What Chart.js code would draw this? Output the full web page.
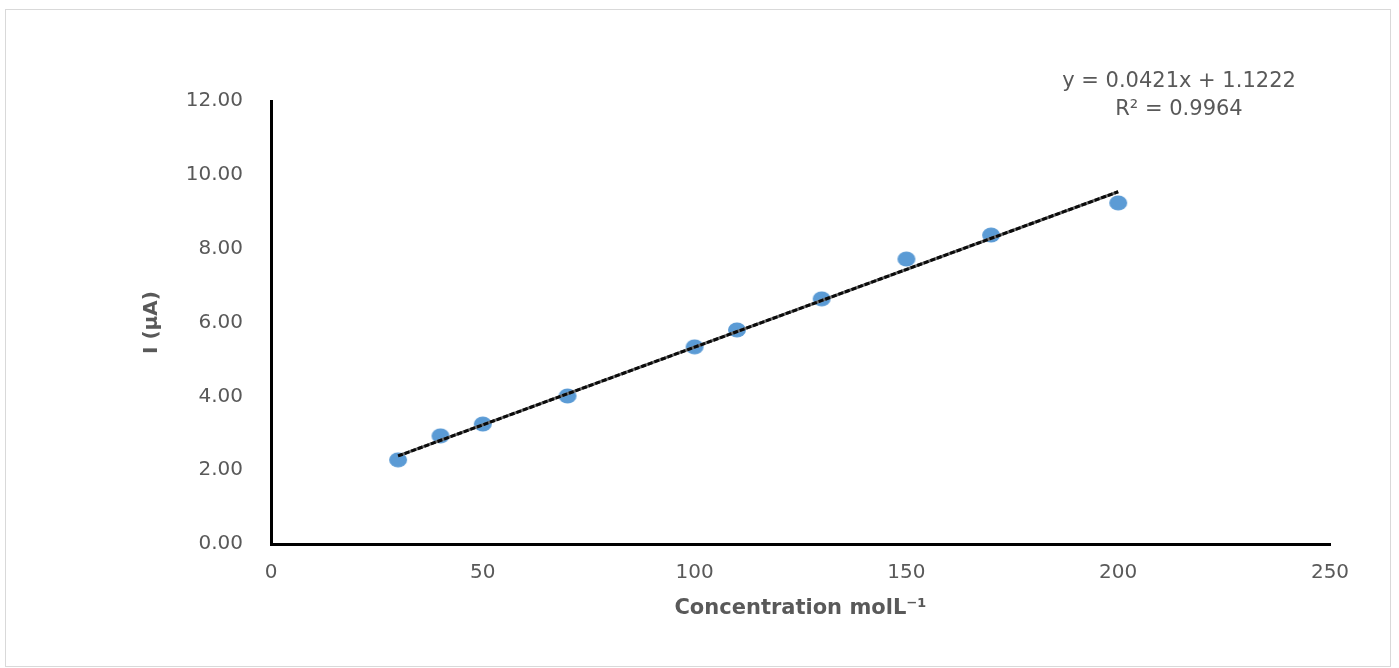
<!DOCTYPE html>
<html><head><meta charset="utf-8">
<script src="https://cdn.jsdelivr.net/npm/chart.js@4/dist/chart.umd.min.js"></script>
<style>
html,body{margin:0;padding:0;background:#fff;}
#wrap{position:absolute;left:0;top:0;width:1399px;height:668px;}
#frame{position:absolute;left:5px;top:9px;width:1384px;height:656px;border:1px solid #d9d9d9;pointer-events:none;}
</style></head><body>
<div id="wrap"><canvas id="c" width="1399" height="668"></canvas></div>
<div id="frame"></div>
<script>
const concentration = [30, 40, 50, 70, 100, 110, 130, 150, 170, 200];
const current = [2.28, 2.93, 3.25, 4.01, 5.34, 5.80, 6.64, 7.72, 8.37, 9.24];
const trendX = [30, 200];
const trendY = [2.385, 9.542];
const xTicks = [0, 50, 100, 150, 200, 250];
const yTicks = [0, 2, 4, 6, 8, 10, 12];
const equationText = 'y = 0.0421x + 1.1222';
const r2Text = 'R\u00B2 = 0.9964';
const xTitle = 'Concentration molL\u207B\u00B9';
const yTitle = 'I (\u00B5A)';

const FONT = '"DejaVu Sans", sans-serif';
const GRAY = '#595959';

// elliptical marker
const marker = document.createElement('canvas');
marker.width = 20; marker.height = 16;
(function(){
  const m = marker.getContext('2d');
  m.fillStyle = '#5B9BD5';
  m.beginPath();
  m.ellipse(10, 8, 9, 7.5, 0, 0, Math.PI * 2);
  m.fill();
})();

const scatterData = concentration.map((x, i) => ({x: x, y: current[i]}));
const trendData = trendX.map((x, i) => ({x: x, y: trendY[i]}));

const eqPlugin = {
  id: 'eq',
  afterDatasetsDraw(chart) {
    const {ctx, chartArea} = chart;
    ctx.save();
    ctx.font = '21px ' + FONT;
    ctx.fillStyle = GRAY;
    ctx.textAlign = 'center';
    ctx.textBaseline = 'middle';
    const cx = chartArea.right - 151;
    ctx.fillText(equationText, cx, chartArea.top - 19);
    ctx.fillText(r2Text, cx, chartArea.top + 9);
    ctx.restore();
  }
};

new Chart(document.getElementById('c'), {
  type: 'scatter',
  data: {
    datasets: [
      {type: 'line', data: trendData, borderColor: '#0a0a0a', borderWidth: 3, borderDash: [5, 2], pointRadius: 0, fill: false},
      {type: 'line', data: trendData, borderColor: '#6a6a6a', borderWidth: 3, pointRadius: 0, fill: false},
      {data: scatterData, pointStyle: marker, pointRadius: 9, backgroundColor: '#5B9BD5', borderWidth: 0}
    ]
  },
  options: {
    responsive: false,
    animation: false,
    devicePixelRatio: 1,
    layout: {padding: {top: 101, right: 69, bottom: 0, left: 140}},
    plugins: {legend: {display: false}, tooltip: {enabled: false}},
    scales: {
      x: {
        type: 'linear', min: 0, max: 250,
        afterBuildTicks(s) { s.ticks = xTicks.map(v => ({value: v})); },
        afterFit(s) { s.height = 124; },
        grid: {display: false, drawTicks: false},
        border: {display: true, color: '#000', width: 3},
        ticks: {padding: 17, color: GRAY, font: {family: FONT, size: 20}, maxRotation: 0},
        title: {display: true, text: xTitle, color: GRAY, font: {family: FONT, size: 21, weight: 'bold'}, padding: {top: 0, bottom: 47}}
      },
      y: {
        type: 'linear', min: 0, max: 12,
        afterBuildTicks(s) { s.ticks = yTicks.map(v => ({value: v})); },
        afterFit(s) { s.width = 131; },
        grid: {display: false, drawTicks: false},
        border: {display: true, color: '#000', width: 3},
        ticks: {padding: 28, color: GRAY, font: {family: FONT, size: 20}, callback: v => Number(v).toFixed(2)},
        title: {display: true, text: yTitle, color: GRAY, font: {family: FONT, size: 20, weight: 'bold'}, padding: {top: 0, bottom: 0}}
      }
    }
  },
  plugins: [eqPlugin]
});
</script>
</body></html>
